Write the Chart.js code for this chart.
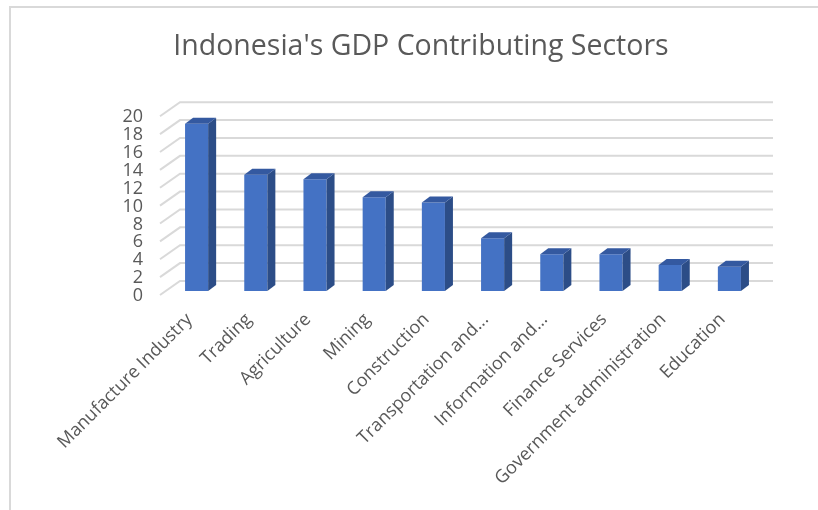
<!DOCTYPE html>
<html lang="en">
<head>
  <meta charset="UTF-8">
  <title>Indonesia's GDP Contributing Sectors</title>
  <script src="https://cdn.jsdelivr.net/npm/chart.js"></script>
  <style>
    body {
      margin: 0;
      background: #fff;
    }
    #wrap {
      width: 818px;
      height: 510px;
    }
  </style>
</head>
<body>
  <div id="wrap"><canvas id="gdpChart" width="818" height="510"></canvas></div>

  <script>
    // values (share of GDP, %)
    const sectors = ['Manufacture Industry', 'Trading', 'Agriculture', 'Mining', 'Construction',
      'Transportation and...', 'Information and...', 'Finance Services', 'Government administration', 'Education'];
    const shares = [18.7, 13.0, 12.5, 10.5, 9.9, 5.9, 4.1, 4.1, 2.9, 2.7];
    const yTicks = [0, 2, 4, 6, 8, 10, 12, 14, 16, 18, 20];

    const textGray = '#595959';
    const gridGray = '#d9d9d9';

    // Fake 3D: back-wall gridlines, floor diagonals and bar side/top faces
    const depthGrid = { dx: 20, dy: 14, front: 4 };
    const depthBar = { dx: 8, dy: 6 };

    const pseudo3d = {
      id: 'pseudo3d',
      beforeDraw(chart) {
        const ctx = chart.ctx;
        ctx.save();
        ctx.fillStyle = '#fff';
        ctx.fillRect(0, 0, chart.width, chart.height);
        // outer frame (left + top edge visible)
        ctx.strokeStyle = gridGray;
        ctx.lineWidth = 2;
        ctx.beginPath();
        ctx.moveTo(10, 510);
        ctx.lineTo(10, 7);
        ctx.lineTo(818, 7);
        ctx.stroke();
        ctx.restore();
      },
      beforeDatasetsDraw(chart) {
        const ctx = chart.ctx;
        const y = chart.scales.y;
        const x0 = 160;
        ctx.save();
        ctx.strokeStyle = gridGray;
        ctx.lineWidth = 2;
        yTicks.forEach(v => {
          const py = y.getPixelForValue(v) + depthGrid.front;
          ctx.beginPath();
          ctx.moveTo(x0, py);
          ctx.lineTo(x0 + depthGrid.dx, py - depthGrid.dy);
          ctx.lineTo(773, py - depthGrid.dy);
          ctx.stroke();
        });
        ctx.restore();
      },
      afterDatasetsDraw(chart) {
        const ctx = chart.ctx;
        const meta = chart.getDatasetMeta(0);
        ctx.save();
        meta.data.forEach(bar => {
          const p = bar.getProps(['x', 'y', 'base', 'width'], true);
          const l = p.x - p.width / 2;
          const r = p.x + p.width / 2;
          // side face
          ctx.fillStyle = '#2c4d87';
          ctx.beginPath();
          ctx.moveTo(r, p.y);
          ctx.lineTo(r + depthBar.dx, p.y - depthBar.dy);
          ctx.lineTo(r + depthBar.dx, p.base - depthBar.dy);
          ctx.lineTo(r, p.base);
          ctx.closePath();
          ctx.fill();
          // top face
          ctx.fillStyle = '#3459a0';
          ctx.beginPath();
          ctx.moveTo(l, p.y);
          ctx.lineTo(l + depthBar.dx, p.y - depthBar.dy);
          ctx.lineTo(r + depthBar.dx, p.y - depthBar.dy);
          ctx.lineTo(r, p.y);
          ctx.closePath();
          ctx.fill();
        });
        ctx.restore();
      }
    };

    new Chart(document.getElementById('gdpChart'), {
      type: 'bar',
      data: {
        labels: sectors,
        datasets: [{
          label: 'GDP share',
          data: shares,
          backgroundColor: '#4472c4',
          borderWidth: 0,
          categoryPercentage: 1,
          barPercentage: 0.39
        }]
      },
      options: {
        responsive: false,
        animation: false,
        layout: { padding: { left: 24, right: 0, top: 0, bottom: 0 } },
        plugins: {
          legend: { display: false },
          tooltip: { enabled: false },
          title: {
            display: true,
            text: "Indonesia's GDP Contributing Sectors",
            color: textGray,
            font: { family: 'Open Sans', size: 28.5, weight: 'normal' },
            padding: { top: 30, bottom: 48 }
          }
        },
        scales: {
          x: {
            grid: { display: false, drawTicks: false },
            border: { display: false },
            ticks: {
              autoSkip: false,
              maxRotation: 45,
              minRotation: 45,
              padding: 18,
              labelOffset: -7,
              color: textGray,
              font: { family: 'Open Sans', size: 18 }
            },
            afterFit(scale) { scale.height = 219; }
          },
          y: {
            min: 0,
            max: 20,
            grid: { display: false, drawTicks: false },
            border: { display: false },
            ticks: {
              autoSkip: false,
              stepSize: 2,
              padding: 24,
              labelOffset: 5,
              color: textGray,
              font: { family: 'Open Sans', size: 18 }
            },
            afterFit(scale) { scale.width = 143; }
          },
          // empty spacer on the right so the plot ends where the reference does
          spacer: {
            axis: 'y',
            position: 'right',
            grid: { display: false, drawTicks: false },
            border: { display: false },
            ticks: { display: false },
            afterFit(scale) { scale.width = 59; }
          }
        }
      },
      plugins: [pseudo3d]
    });
  </script>
</body>
</html>
